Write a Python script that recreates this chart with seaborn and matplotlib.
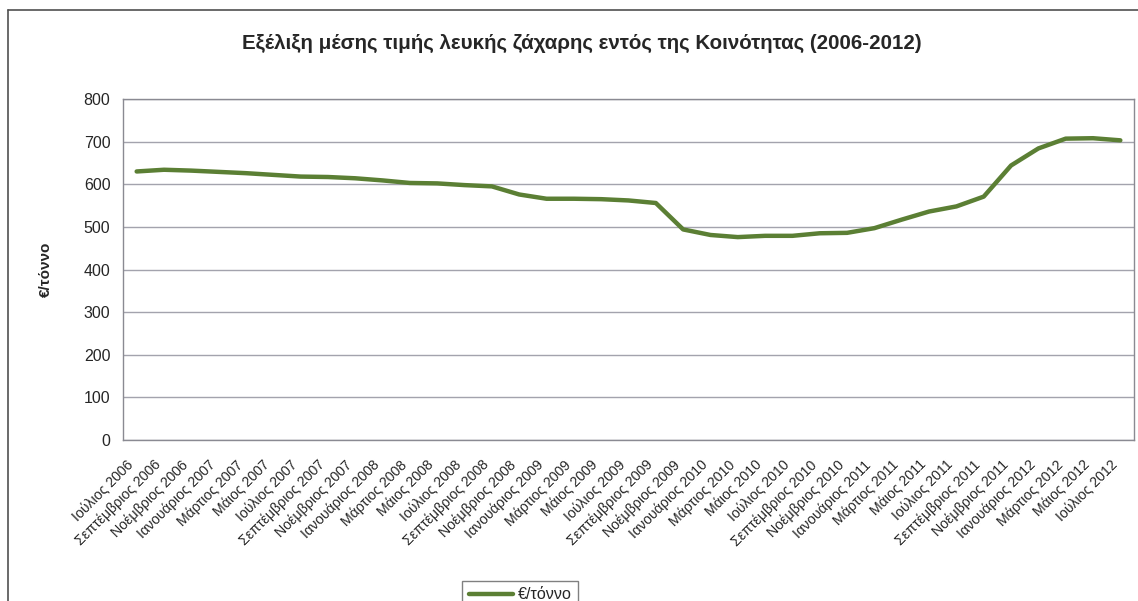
import matplotlib
matplotlib.use("Agg")
import matplotlib.pyplot as plt
import seaborn as sns
import pandas as pd
from matplotlib.lines import Line2D

# months (every second month, July 2006 - July 2012)
months = ['Ιούλιος 2006', 'Σεπτέμβριος 2006', 'Νοέμβριος 2006',
          'Ιανουάριος 2007', 'Μάρτιος 2007', 'Μάιος 2007', 'Ιούλιος 2007', 'Σεπτέμβριος 2007', 'Νοέμβριος 2007',
          'Ιανουάριος 2008', 'Μάρτιος 2008', 'Μάιος 2008', 'Ιούλιος 2008', 'Σεπτέμβριος 2008', 'Νοέμβριος 2008',
          'Ιανουάριος 2009', 'Μάρτιος 2009', 'Μάιος 2009', 'Ιούλιος 2009', 'Σεπτέμβριος 2009', 'Νοέμβριος 2009',
          'Ιανουάριος 2010', 'Μάρτιος 2010', 'Μάιος 2010', 'Ιούλιος 2010', 'Σεπτέμβριος 2010', 'Νοέμβριος 2010',
          'Ιανουάριος 2011', 'Μάρτιος 2011', 'Μάιος 2011', 'Ιούλιος 2011', 'Σεπτέμβριος 2011', 'Νοέμβριος 2011',
          'Ιανουάριος 2012', 'Μάρτιος 2012', 'Μάιος 2012', 'Ιούλιος 2012']

# average white sugar price, EUR per tonne
price = [630, 634, 632, 629, 626, 622, 618, 617, 614, 609, 603, 602, 598,
         595, 576, 566, 566, 565, 562, 556, 494, 481, 476, 479, 479,
         485, 486, 497, 517, 536, 548, 571, 644, 684, 707, 708, 703]

series_name = '€/τόννο'

df = pd.DataFrame({'month': months, 'price': price})

sns.set_style("white")
plt.rcParams['font.family'] = ['Liberation Sans', 'DejaVu Sans']

fig = plt.figure(figsize=(11.38, 6.01), dpi=100)
ax = fig.add_axes([123/1138, 1 - 440/601, (1134-123)/1138, (440-99)/601])

sns.lineplot(data=df, x='month', y='price', ax=ax, color='#5b7f34',
             linewidth=3.2, label=series_name, sort=False)

ax.set_xlim(-0.5, len(months) - 0.5)
ax.set_ylim(0, 800)
ax.set_yticks(range(0, 801, 100))
ax.yaxis.grid(True, color='#a3a3ad', linewidth=1)
ax.set_axisbelow(True)

ax.set_xticks(range(len(months)))
ax.set_xticklabels(months, rotation=45, ha='right', va='bottom',
                   rotation_mode='anchor', fontsize=10.2)
ax.set_xticks([i - 0.5 for i in range(len(months) + 1)], minor=True)
ax.tick_params(axis='x', which='major', length=0, pad=20)
ax.tick_params(axis='x', which='minor', length=5, color='#808080', direction='out')
ax.tick_params(axis='y', length=5, color='#808080', direction='out', labelsize=11.5, pad=4)

for s in ax.spines.values():
    s.set_color('#8a8a92')
    s.set_linewidth(1)

ax.set_xlabel('')
ax.set_ylabel(series_name, fontsize=11, fontweight='bold', labelpad=22)

fig.suptitle('Εξέλιξη μέσης τιμής λευκής ζάχαρης εντός της Κοινότητας (2006-2012)',
             x=582/1138, y=1 - 43/601, va='center', fontsize=14.8, fontweight='bold')

ax.get_legend().remove()
fig.legend(handles=[Line2D([], [], color='#5b7f34', linewidth=3.2)], labels=[series_name],
           loc='upper center', bbox_to_anchor=(520/1138, 1 - 573/601), fontsize=11.5,
           frameon=True, fancybox=False, edgecolor='#606060', handlelength=2.8,
           handletextpad=0.25, borderpad=0.4)

# outer chart-area border (scanned page)
fig.add_artist(Line2D([8/1138, 1], [1 - 10/601, 1 - 10/601], color='#505050', linewidth=1.2))
fig.add_artist(Line2D([8/1138, 8/1138], [1 - 10/601, 0], color='#505050', linewidth=1.2))

fig.savefig('out.png', dpi=100, facecolor='white')
